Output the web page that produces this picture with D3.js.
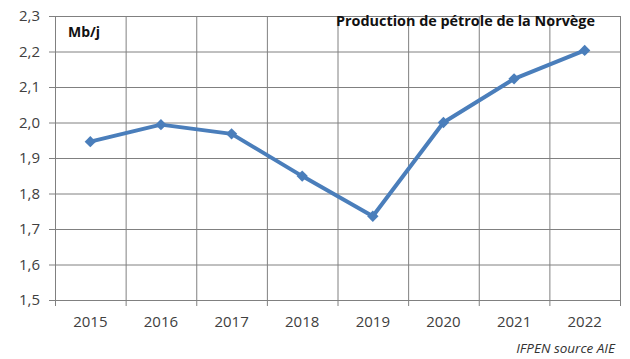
<!DOCTYPE html>
<html>
<head>
<meta charset="utf-8">
<script src="https://cdn.jsdelivr.net/npm/d3@7"></script>
<style>
  body { margin: 0; background: #fff; }
  svg { display: block; font-family: "Open Sans", "Liberation Sans", sans-serif; }
</style>
</head>
<body>
<svg id="chart" width="630" height="359"></svg>
<script>
const years = ["2015", "2016", "2017", "2018", "2019", "2020", "2021", "2022"];
const production = [1.946, 1.994, 1.968, 1.849, 1.736, 2.0, 2.123, 2.203];
const yTicks = [1.5, 1.6, 1.7, 1.8, 1.9, 2.0, 2.1, 2.2, 2.3];

const plotLeft = 55, plotRight = 620, plotTop = 16, plotBottom = 300;

const svg = d3.select("#chart");

const x = d3.scaleBand().domain(years).range([plotLeft, plotRight]).paddingInner(0).paddingOuter(0);
const xEdge = d3.scaleLinear().domain([0, years.length]).range([plotLeft, plotRight]);
const y = d3.scaleLinear().domain([1.5, 2.3]).range([plotBottom, plotTop]);

// horizontal gridlines + y labels
const yAxis = svg.append("g")
    .attr("transform", "translate(" + plotRight + ",0)")
    .call(d3.axisLeft(y).tickValues(yTicks).tickSize(plotRight - 49).tickPadding(9)
        .tickFormat(d => d3.format(".1f")(d).replace(".", ",")));
yAxis.select(".domain").remove();
yAxis.selectAll("line").attr("stroke", "#808080");
yAxis.selectAll("text").attr("fill", "#404040").style("font-size", "15px")
    .style("font-family", "'Open Sans', sans-serif");

// vertical gridlines at category edges
const xGrid = svg.append("g")
    .attr("transform", "translate(0," + plotTop + ")")
    .call(d3.axisBottom(xEdge).tickValues(d3.range(years.length + 1)).tickSize(306 - plotTop).tickFormat(""));
xGrid.select(".domain").remove();
xGrid.selectAll("line").attr("stroke", "#808080");

// x labels
const xAxis = svg.append("g")
    .attr("transform", "translate(0," + plotBottom + ")")
    .call(d3.axisBottom(x).tickSize(0).tickPadding(16));
xAxis.select(".domain").remove();
xAxis.selectAll("text").attr("fill", "#404040").style("font-size", "15px")
    .style("font-family", "'Open Sans', sans-serif");

// line
const cx = d => x(d) + x.bandwidth() / 2;
svg.append("path")
    .datum(years)
    .attr("fill", "none")
    .attr("stroke", "#4a7ebb")
    .attr("stroke-width", 4)
    .attr("stroke-linejoin", "round")
    .attr("d", d3.line().x(d => cx(d)).y((d, i) => y(production[i])));

// diamond markers (rotated squares)
svg.append("g")
    .selectAll("path")
    .data(years)
    .join("path")
    .attr("d", d3.symbol(d3.symbolSquare, 64))
    .attr("transform", (d, i) => "translate(" + cx(d) + "," + y(production[i]) + ") rotate(45)")
    .attr("fill", "#4a7ebb");

// texts
svg.append("text").text("Mb/j")
    .attr("x", 68).attr("y", 37)
    .style("font-size", "14px").style("font-weight", "bold").attr("fill", "#111");
svg.append("text").text("Production de pétrole de la Norvège")
    .attr("x", 336).attr("y", 26)
    .attr("textLength", 259).attr("lengthAdjust", "spacingAndGlyphs")
    .style("font-size", "13.5px").style("font-weight", "bold").attr("fill", "#111");
svg.append("text").text("IFPEN source AIE")
    .attr("x", 615).attr("y", 353).attr("text-anchor", "end")
    .style("font-size", "13.5px").style("font-style", "italic").attr("fill", "#333");
</script>
</body>
</html>
